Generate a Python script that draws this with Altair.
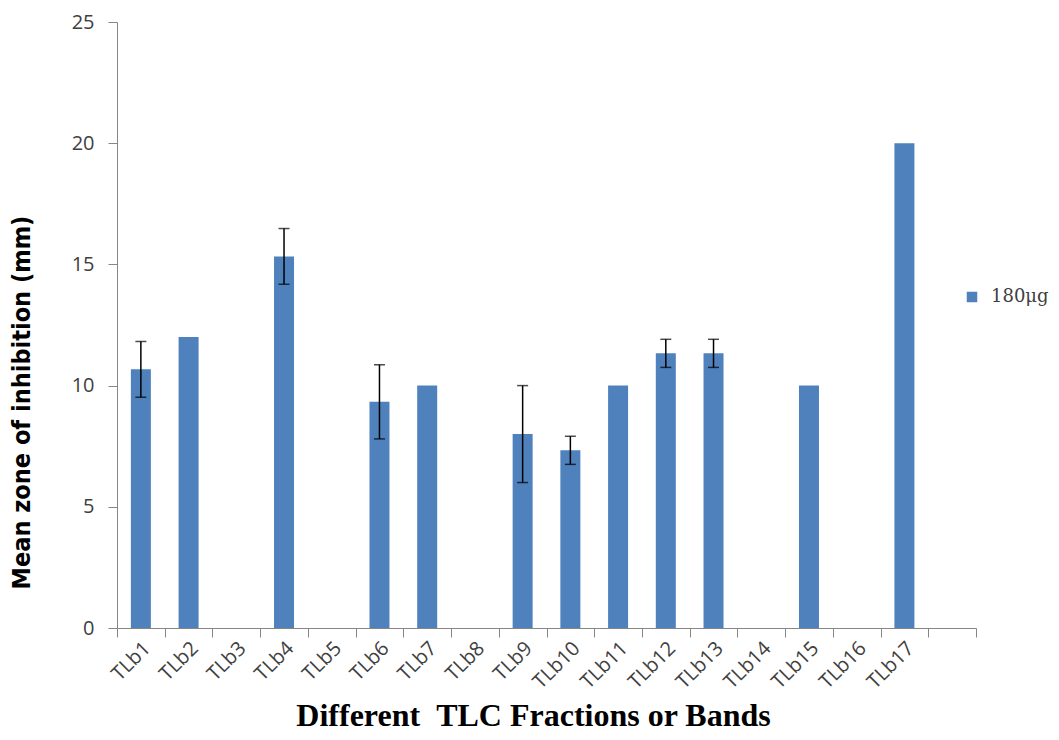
import altair as alt
import pandas as pd

categories = ["TLb1", "TLb2", "TLb3", "TLb4", "TLb5", "TLb6", "TLb7", "TLb8", "TLb9",
              "TLb10", "TLb11", "TLb12", "TLb13", "TLb14", "TLb15", "TLb16", "TLb17"]
means = [10.67, 12.0, 0, 15.33, 0, 9.33, 10.0, 0, 8.0, 7.33, 10.0, 11.33, 11.33, 0, 10.0, 0, 20.0]
errors = [1.15, 0, 0, 1.15, 0, 1.53, 0, 0, 2.0, 0.58, 0, 0.58, 0.58, 0, 0, 0, 0]
series_name = "180μg"
domain = categories + [" "]

df = pd.DataFrame({"band": categories, "mean": means, "err": errors})
df["series"] = series_name
df["lo"] = df["mean"] - df["err"]
df["hi"] = df["mean"] + df["err"]
err_df = df[df["err"] > 0]

xscale = alt.Scale(domain=domain, paddingInner=0, paddingOuter=0)
yscale = alt.Scale(domain=[0, 25], nice=False)

x_enc = alt.X("band:N", scale=xscale, sort=domain,
              axis=alt.Axis(title="Different\u00a0\u00a0TLC Fractions or Bands",
                            labelAngle=-45, labelAlign="right", labelBaseline="middle",
                            labelPadding=8, labelOffset=6,
                            tickBand="extent", tickSize=9, domainColor="#868686",
                            tickColor="#868686", labelFont="Open Sans", labelFontSize=20,
                            labelColor="#404040",
                            titleFont="Liberation Serif", titleFontSize=32, titleFontWeight="bold",
                            titleColor="#000000", titleBaseline="alphabetic",
                            titleX=416, titleY=97))

bars = alt.Chart(df).mark_bar(size=20).encode(
    x=x_enc,
    y=alt.Y("mean:Q", scale=yscale,
            axis=alt.Axis(title="Mean zone of inhibition (mm)", values=[0, 5, 10, 15, 20, 25],
                          grid=False, tickSize=9, domainColor="#868686", tickColor="#868686",
                          labelFont="Open Sans", labelFontSize=20, labelColor="#404040",
                          labelPadding=14,
                          titleFont="Liberation Sans Narrow, DejaVu Sans Condensed, Liberation Sans",
                          titleFontSize=25, titleFontWeight="bold", titleColor="#000000",
                          titleX=-83, titleY=380)),
    color=alt.Color("series:N", scale=alt.Scale(range=["#4F81BD"]),
                    legend=alt.Legend(title=None, orient="none", legendX=846, legendY=266,
                                      symbolType="square", symbolSize=110, symbolStrokeWidth=0,
                                      labelFont="DejaVu Serif", labelFontSize=18,
                                      labelColor="#404040", padding=0, labelOffset=10)),
)

rules = alt.Chart(err_df).mark_rule(color="black", strokeWidth=1.5).encode(
    x=alt.X("band:N", scale=xscale, sort=domain), y="lo:Q", y2="hi:Q")
caps_hi = alt.Chart(err_df).mark_tick(color="black", size=11, thickness=1.5).encode(
    x=alt.X("band:N", scale=xscale, sort=domain), y=alt.Y("hi:Q", scale=yscale))
caps_lo = alt.Chart(err_df).mark_tick(color="black", size=11, thickness=1.5).encode(
    x=alt.X("band:N", scale=xscale, sort=domain), y=alt.Y("lo:Q", scale=yscale))

chart = alt.layer(bars, rules, caps_hi, caps_lo).properties(
    width=859, height=606,
    background="white",
    autosize=alt.AutoSizeParams(type="none"),
    padding={"left": 109, "top": 14, "right": 75, "bottom": 104},
).configure_view(stroke=None)

chart.save("out.html", embed_options={"renderer": "svg", "actions": False})
